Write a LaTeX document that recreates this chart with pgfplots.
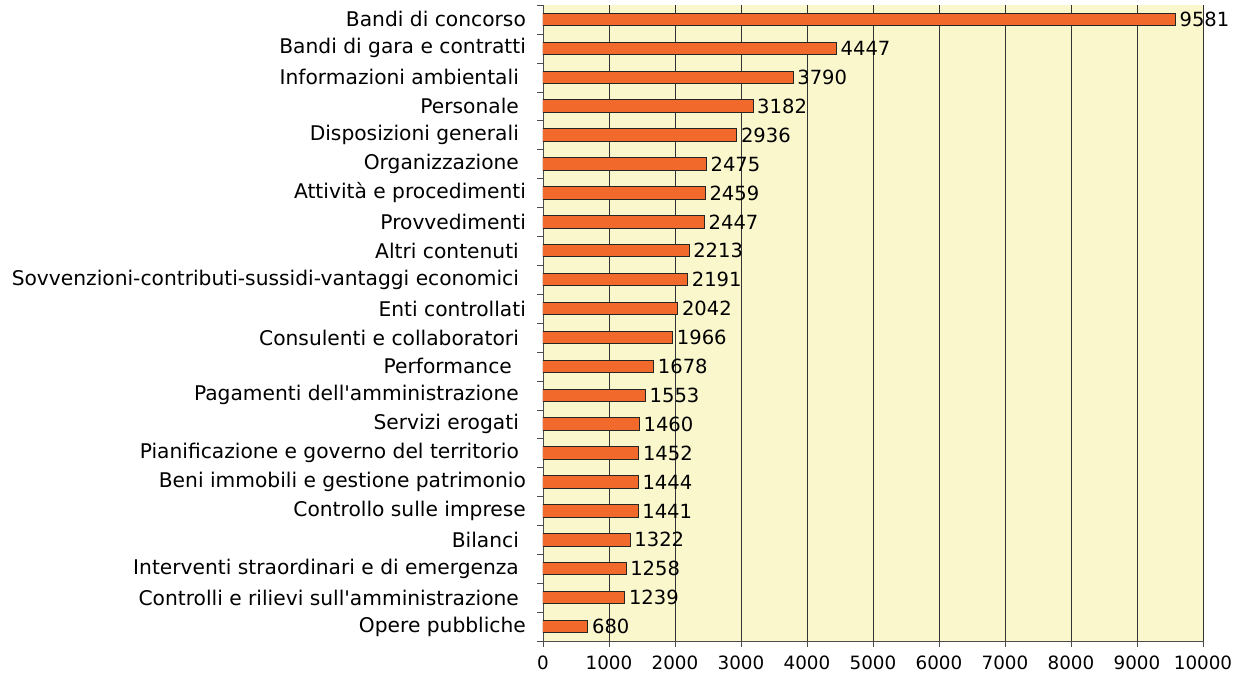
\documentclass[border=0pt]{standalone}
\usepackage{pgfplots}
\pgfplotsset{compat=1.18}
\usepackage{fontspec}
\setmainfont{DejaVu Sans}
\definecolor{barfill}{HTML}{F26A2B}
\definecolor{bgc}{HTML}{FAF7CD}
\newcommand{\fs}{\fontsize{10.15}{12}\selectfont}
\newcommand{\fn}{\fontsize{9.8}{12}\selectfont}
\newcommand{\fx}{\fontsize{9.2}{11}\selectfont}
\begin{document}
\fs
\begin{tikzpicture}
\begin{axis}[
  scale only axis,
  width=330bp, height=318bp,
  xbar, bar width=6.2bp,
  y dir=reverse,
  xmin=0, xmax=10000,
  ymin=-0.5, ymax=21.5,
  axis lines=left,
  axis line style={-, draw=black!70},
  axis background/.style={fill=bgc},
  xtick={0,1000,...,10000},
  scaled x ticks=false,
  xmajorgrids, grid style={draw=black!80, line width=0.4pt},
  ytick={0,...,21},
  ytick style={draw=none},
  minor ytick={-0.5,0.5,...,21.5},
  minor tick length=3bp,
  tick align=outside,
  major tick length=3bp,
  xtick style={draw=black!70},
  minor y tick style={draw=black!70},
  yticklabel style={font=\fs, xshift=-2bp},
  xticklabel style={font=\fx, yshift=-1bp},
  /pgf/number format/assume math mode=true,
  /pgf/number format/1000 sep={},
  yticklabels={
    Bandi di concorso,
    Bandi di gara e contratti,
    Informazioni ambientali\kern3.5bp,
    Personale\kern3.5bp,
    Disposizioni generali\kern3.5bp,
    Organizzazione\kern3.5bp,
    Attività e procedimenti,
    Provvedimenti,
    Altri contenuti\kern3.5bp,
    Sovvenzioni-contributi-sussidi-vantaggi economici\kern3.5bp,
    Enti controllati,
    Consulenti e collaboratori\kern3.5bp,
    Performance\kern7bp,
    Pagamenti dell\textquotesingle amministrazione\kern3.5bp,
    Servizi erogati\kern3.5bp,
    Pianificazione e governo del territorio\kern3.5bp,
    Beni immobili e gestione patrimonio,
    Controllo sulle imprese,
    Bilanci\kern3.5bp,
    Interventi straordinari e di emergenza\kern3.5bp,
    Controlli e rilievi sull\textquotesingle amministrazione\kern3.5bp,
    Opere pubbliche},
  nodes near coords,
  nodes near coords style={anchor=west, xshift=-1.5bp, font=\fn, /pgf/number format/assume math mode=true, /pgf/number format/1000 sep={}},
]
\addplot[fill=barfill, draw=black!85, line width=0.5pt] coordinates {
(9581,0) (4447,1) (3790,2) (3182,3) (2936,4) (2475,5) (2459,6) (2447,7)
(2213,8) (2191,9) (2042,10) (1966,11) (1678,12) (1553,13) (1460,14)
(1452,15) (1444,16) (1441,17) (1322,18) (1258,19) (1239,20) (680,21)};
\end{axis}
\pgfresetboundingbox
\path (current axis.south west) ++(-271.5bp,-17.5bp) coordinate (bl);
\path (current axis.north east) ++(18bp,2.5bp) coordinate (tr);
\useasboundingbox (bl) rectangle (tr);
\end{tikzpicture}
\end{document}
